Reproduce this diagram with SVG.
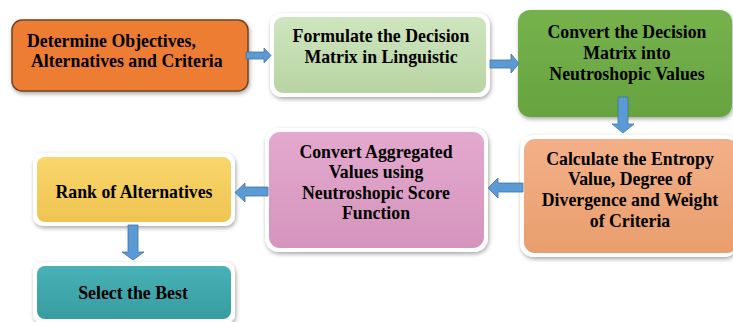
<svg xmlns="http://www.w3.org/2000/svg" width="733" height="322" viewBox="0 0 733 322">
<defs>
<filter id="sh" x="-10%" y="-10%" width="125%" height="130%">
<feDropShadow dx="1" dy="2" stdDeviation="2" flood-color="#000" flood-opacity="0.35"/>
</filter>
<linearGradient id="g2" x1="0" y1="0" x2="0" y2="1"><stop offset="0" stop-color="#cfe5bf"/><stop offset="1" stop-color="#b8d4a2"/></linearGradient>
<linearGradient id="g3" x1="0" y1="0" x2="0" y2="1"><stop offset="0" stop-color="#76b24c"/><stop offset="1" stop-color="#67a33f"/></linearGradient>
<linearGradient id="g4" x1="0" y1="0" x2="0" y2="1"><stop offset="0" stop-color="#f3b088"/><stop offset="1" stop-color="#e99e6d"/></linearGradient>
<linearGradient id="g5" x1="0" y1="0" x2="0" y2="1"><stop offset="0" stop-color="#e4a9ce"/><stop offset="1" stop-color="#d594bd"/></linearGradient>
<linearGradient id="g6" x1="0" y1="0" x2="0" y2="1"><stop offset="0" stop-color="#fad66c"/><stop offset="1" stop-color="#efc451"/></linearGradient>
<linearGradient id="g7" x1="0" y1="0" x2="0" y2="1"><stop offset="0" stop-color="#48b2b6"/><stop offset="1" stop-color="#379ca1"/></linearGradient>
</defs>
<style>
text{font-family:"Liberation Serif","Times New Roman",serif;font-weight:bold;font-size:17.8px;fill:#000;}
.c{text-anchor:middle;}
.frame{fill:#fff;filter:url(#sh);}
.arrow{fill:#5b9bd5;stroke:#41719c;stroke-width:0.8;}
</style>
<g id="node1">
<rect x="12" y="20" width="236" height="71" rx="10" fill="#ed7d31" stroke="#6e4424" stroke-width="1.5" filter="url(#sh)"/>
<text x="27" y="47">Determine Objectives,</text>
<text x="31" y="67">Alternatives and Criteria</text>
</g>
<g id="node2">
<rect class="frame" x="270" y="13" width="220" height="84" rx="12"/>
<rect x="274" y="17" width="212" height="76" rx="9" fill="url(#g2)"/>
<text class="c" x="381" y="42">Formulate the Decision</text>
<text class="c" x="381" y="63">Matrix in Linguistic</text>
</g>
<g id="node3">
<rect x="518" y="10" width="214" height="107" rx="12" fill="url(#g3)" filter="url(#sh)"/>
<text class="c" x="627" y="38">Convert the Decision</text>
<text class="c" x="627" y="59">Matrix into</text>
<text class="c" x="627" y="80">Neutroshopic Values</text>
</g>
<g id="node4">
<rect class="frame" x="520" y="135" width="218" height="122" rx="14"/>
<rect x="524" y="139" width="214" height="114" rx="11" fill="url(#g4)"/>
<text class="c" x="630" y="165">Calculate the Entropy</text>
<text class="c" x="630" y="185">Value, Degree of</text>
<text class="c" x="630" y="206">Divergence and Weight</text>
<text class="c" x="630" y="227">of Criteria</text>
</g>
<g id="node5">
<rect class="frame" x="265" y="128" width="223" height="124" rx="14"/>
<rect x="269" y="132" width="215" height="116" rx="11" fill="url(#g5)"/>
<text class="c" x="376" y="158">Convert Aggregated</text>
<text class="c" x="376" y="178">Values using</text>
<text class="c" x="376" y="199">Neutroshopic Score</text>
<text class="c" x="376" y="219">Function</text>
</g>
<g id="node6">
<rect class="frame" x="33" y="153" width="202" height="73" rx="10"/>
<rect x="37" y="157" width="194" height="65" rx="8" fill="url(#g6)"/>
<text class="c" x="134" y="198">Rank of Alternatives</text>
</g>
<g id="node7">
<rect class="frame" x="33" y="262" width="202" height="62" rx="10"/>
<rect x="37" y="266" width="194" height="53" rx="8" fill="url(#g7)"/>
<text class="c" x="133" y="299">Select the Best</text>
</g>
<g id="connectors">
<polygon class="arrow" points="246,52 264,52 264,48 271,55.5 264,63 264,59 246,59"/>
<polygon class="arrow" points="490,60 511,60 511,54 519,63.5 511,73 511,68 490,68"/>
<polygon class="arrow" points="618,97 628,97 628,124 634,124 623,133 612,124 618,124"/>
<polygon class="arrow" points="523,183 498,183 498,178 488,188 498,198 498,192 523,192"/>
<polygon class="arrow" points="268,187 245,187 245,183 235,192.5 245,202 245,196 268,196"/>
<polygon class="arrow" points="128,225 138,225 138,252 144,252 133,260 122,252 128,252"/>
</g>
</svg>
